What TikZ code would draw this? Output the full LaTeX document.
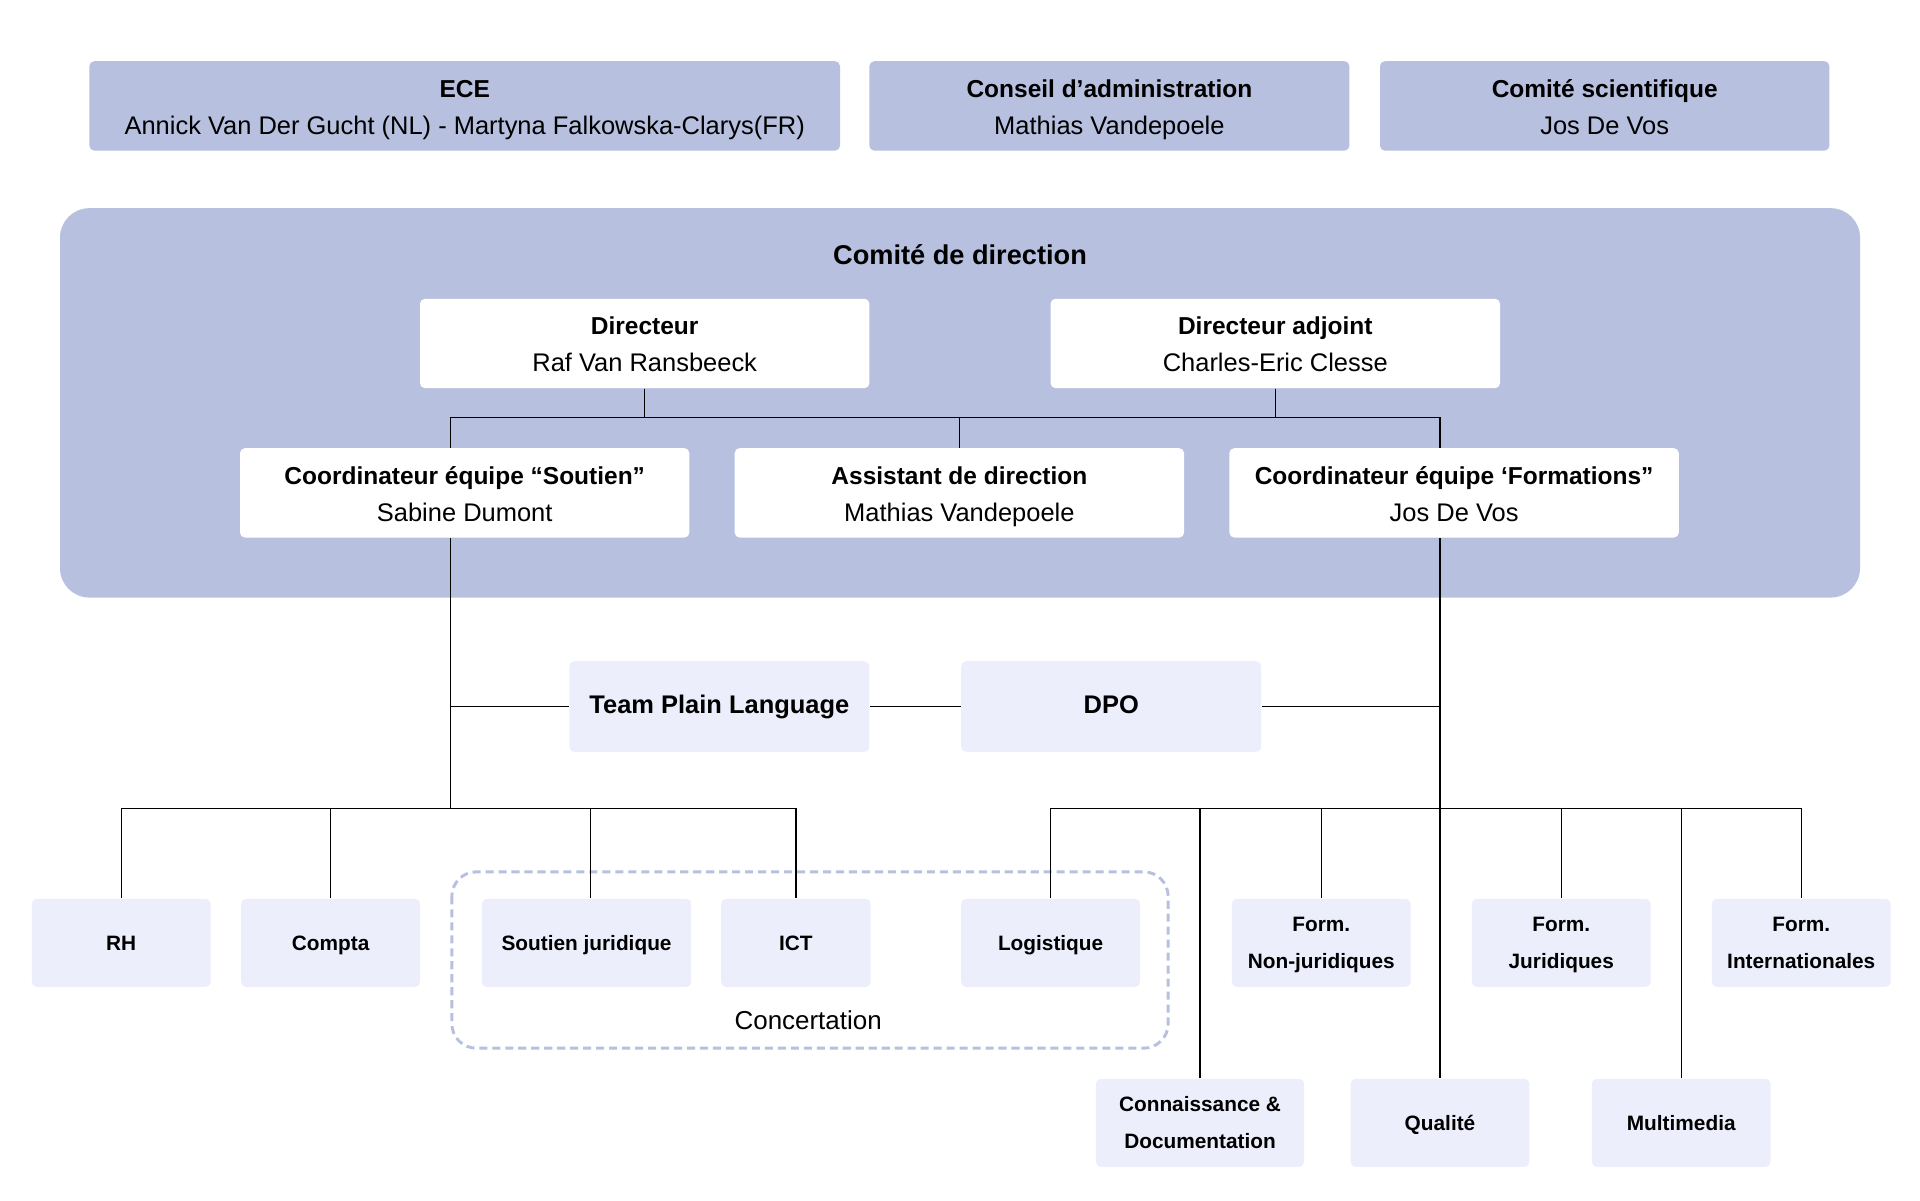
\documentclass[tikz,border=0pt]{standalone}
\usepackage{fontspec}
\setmainfont{Liberation Sans}
\usetikzlibrary{positioning}
\definecolor{boxdark}{HTML}{B7C0DF}
\definecolor{boxlight}{HTML}{EDEEFB}
\newcommand{\bstrut}{\rule[-2.5pt]{0pt}{13pt}}
\newcommand{\sstrut}{\rule[-2pt]{0pt}{10pt}}
\newcommand{\tightlines}{\lineskiplimit=-100pt\relax}
\newcommand{\pers}[2]{{\bfseries\fontsize{10}{15}\selectfont #1}\bstrut\\#2\bstrut}
\newcommand{\svcpair}[2]{\sstrut #1\\\sstrut #2}
\begin{document}
\begin{tikzpicture}[x=0.5pt,y=-0.5pt,
  topbox/.style={fill=boxdark, rounded corners=2pt, minimum height=36.5pt, inner sep=0pt, align=center, font=\fontsize{10.4}{15}\selectfont\tightlines},
  whitebox/.style={topbox, fill=white, minimum width=183.5pt},
  lightbox/.style={fill=boxlight, rounded corners=2pt, minimum width=122.5pt, minimum height=37pt, inner sep=0pt, font=\bfseries\fontsize{10.4}{15}\selectfont, execute at begin node=\strut},
  smallbox/.style={fill=boxlight, rounded corners=2pt, minimum width=73pt, minimum height=36pt, inner sep=0pt, align=center, font=\bfseries\fontsize{8.5}{15}\selectfont\tightlines},
  svc/.style={smallbox, execute at begin node=\strut},
  link/.style={draw=black, line width=0.5pt}]
\useasboundingbox (0,0) rectangle (1568,980);
% comite de direction
\fill[boxdark, rounded corners=12pt] (49,170) rectangle (1519,488);
\node[font=\bfseries\fontsize{11.1}{14}\selectfont] (cdd) at (784,208) {Comité de direction};
% concertation
\draw[boxdark, line width=1.2pt, dash pattern=on 3.3pt off 2pt, rounded corners=10pt] (369,712) rectangle (954,856);
\node[font=\fontsize{10.6}{14}\selectfont] (conc) at (660,833) {Concertation};
% top row
\node[topbox, minimum width=306.5pt] (ece) at (379.5,86.5) {\pers{ECE}{Annick Van Der Gucht (NL) - Martyna Falkowska-Clarys(FR)}};
\node[topbox, minimum width=196pt] (ca) at (906,86.5) {\pers{Conseil d’administration}{Mathias Vandepoele}};
\node[topbox, minimum width=183.5pt] (cs) at (1310.5,86.5) {\pers{Comité scientifique}{Jos De Vos}};
% direction
\node[whitebox] (dir) at (526.5,280.5) {\pers{Directeur}{Raf Van Ransbeeck}};
\node[whitebox] (adj) at (1041.5,280.5) {\pers{Directeur adjoint}{Charles-Eric Clesse}};
\node[whitebox] (sout) at (379.5,402.5) {\pers{Coordinateur équipe “Soutien”}{Sabine Dumont}};
\node[whitebox] (asst) at (783.5,402.5) {\pers{Assistant de direction}{Mathias Vandepoele}};
\node[whitebox] (form) at (1187.5,402.5) {\pers{Coordinateur équipe ‘Formations”}{Jos De Vos}};
% staff
\node[lightbox] (tpl) at (587.5,577) {Team Plain Language};
\node[lightbox] (dpo) at (907.5,577) {DPO};
% services
\node[svc] (rh) at (99,770) {RH};
\node[svc] (compta) at (270,770) {Compta};
\node[svc, minimum width=85.5pt] (sj) at (479,770) {Soutien juridique};
\node[svc, minimum width=61pt] (ict) at (650,770) {ICT};
\node[svc] (logi) at (858,770) {Logistique};
\node[smallbox] (fnj) at (1079,770) {\svcpair{Form.}{Non-juridiques}};
\node[smallbox] (fjur) at (1275,770) {\svcpair{Form.}{Juridiques}};
\node[smallbox] (fint) at (1471,770) {\svcpair{Form.}{Internationales}};
\node[smallbox, minimum width=85pt] (conn) at (980,917) {\svcpair{Connaissance \&}{Documentation}};
\node[svc] (qual) at (1176,917) {Qualité};
\node[svc] (multi) at (1373,917) {Multimedia};
% connectors
\coordinate (busA) at (0,341);
\coordinate (busL) at (0,660);
\coordinate (sx) at (368,0);
\coordinate (fx) at (1176,0);
\draw[link] (dir.south) -- (dir.south |- busA);
\draw[link] (adj.south) -- (adj.south |- busA);
\draw[link] (sout.north -| sx) -- (busA -| sx) -- (busA -| fx) -- (form.north -| fx);
\draw[link] (asst.north) -- (asst.north |- busA);
\draw[link] (sout.south -| sx) -- (busL -| sx);
\draw[link] (form.south -| fx) -- (qual.north);
\draw[link] (tpl.west) -- (tpl.west -| sx);
\draw[link] (tpl.east) -- (dpo.west);
\draw[link] (dpo.east) -- (dpo.east -| fx);
\draw[link] (rh.north) -- (rh.north |- busL) -| (ict.north);
\draw[link] (compta.north) -- (compta.north |- busL);
\draw[link] ([xshift=1.5pt]sj.north) -- ([xshift=1.5pt]sj.north |- busL);
\draw[link] (logi.north) -- (logi.north |- busL) -| (fint.north);
\draw[link] (conn.north) -- (conn.north |- busL);
\draw[link] (fnj.north) -- (fnj.north |- busL);
\draw[link] (fjur.north) -- (fjur.north |- busL);
\draw[link] (multi.north) -- (multi.north |- busL);
\end{tikzpicture}
\end{document}
